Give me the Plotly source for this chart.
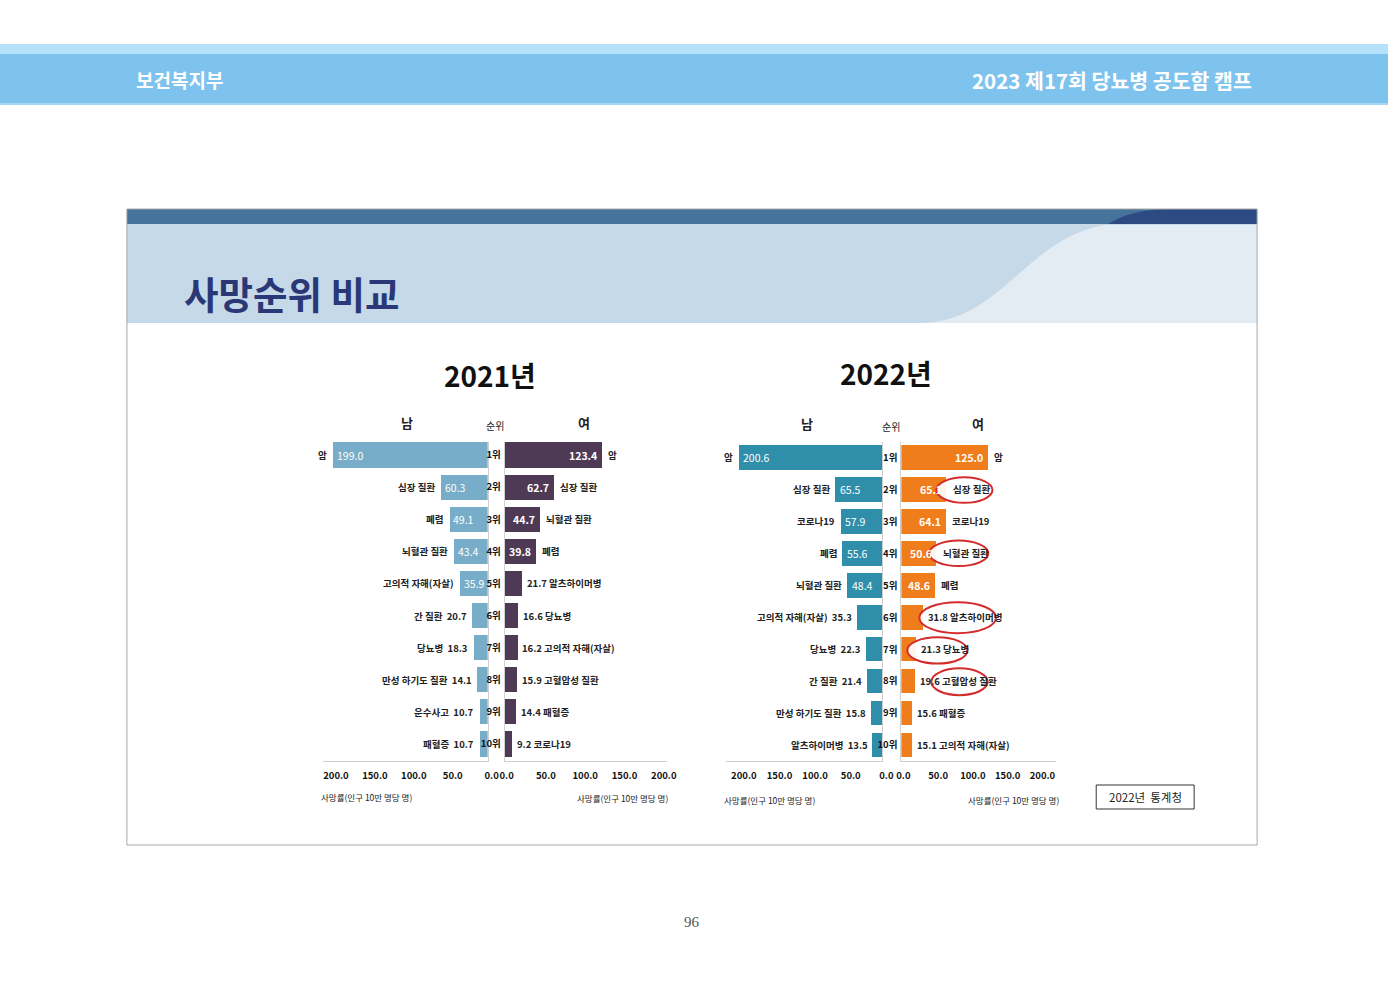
import plotly.graph_objects as go

W, H = 1400, 990

# ---------------- data ----------------
rank_pos = list(range(1, 11))
rank_labels = [f"{i}위" for i in rank_pos]
tick_vals = [0, 50, 100, 150, 200]
tick_text = ["0.0", "50.0", "100.0", "150.0", "200.0"]

m2021_cause = ["암", "심장 질환", "폐렴", "뇌혈관 질환", "고의적 자해(자살)", "간 질환", "당뇨병",
               "만성 하기도 질환", "운수사고", "패혈증"]
m2021_val = [199.0, 60.3, 49.1, 43.4, 35.9, 20.7, 18.3, 14.1, 10.7, 10.7]
f2021_cause = ["암", "심장 질환", "뇌혈관 질환", "폐렴", "알츠하이머병", "당뇨병", "고의적 자해(자살)",
               "고혈압성 질환", "패혈증", "코로나19"]
f2021_val = [123.4, 62.7, 44.7, 39.8, 21.7, 16.6, 16.2, 15.9, 14.4, 9.2]

m2022_cause = ["암", "심장 질환", "코로나19", "폐렴", "뇌혈관 질환", "고의적 자해(자살)", "당뇨병",
               "간 질환", "만성 하기도 질환", "알츠하이머병"]
m2022_val = [200.6, 65.5, 57.9, 55.6, 48.4, 35.3, 22.3, 21.4, 15.8, 13.5]
f2022_cause = ["암", "심장 질환", "코로나19", "뇌혈관 질환", "폐렴", "알츠하이머병", "당뇨병",
               "고혈압성 질환", "패혈증", "고의적 자해(자살)"]
f2022_val = [125.0, 65.1, 64.1, 50.6, 48.6, 31.8, 21.3, 19.6, 15.6, 15.1]

# highlighted (circled) ranks in 2022 female panel
highlight_ranks = [2, 4, 6, 7, 8]

FONT = "Liberation Sans Narrow, Noto Sans CJK KR, sans-serif"
KFONT = "Noto Sans CJK KR, sans-serif"

# page-to-paper mapping (figure sits 8px in from the left, 1384px wide)
XOFF, XW = 8.0, 1384.0


def px(x):
    return (x - XOFF) / XW


def py(y):
    return 1 - y / H


panels = [
    dict(x="x", y="y", vals=m2021_val, causes=m2021_cause, side="m", color="#77adc8",
         xdom=(326, 491), xr=211.8, ydom=(442, 761), yr=(10.53, 0.595), width=0.78, thr=30),
    dict(x="x2", y="y2", vals=f2021_val, causes=f2021_cause, side="f", color="#4f3a55",
         xdom=(508, 670), xr=206.0, ydom=(442, 761), yr=(10.53, 0.595), width=0.78, thr=30),
    dict(x="x3", y="y3", vals=m2022_val, causes=m2022_cause, side="m", color="#2f8eaa",
         xdom=(730, 886), xr=218.8, ydom=(442, 761), yr=(10.5, 0.515), width=0.77, thr=40),
    dict(x="x4", y="y4", vals=f2022_val, causes=f2022_cause, side="f", color="#f07d1c",
         xdom=(905, 1060), xr=222.7, ydom=(442, 761), yr=(10.5, 0.515), width=0.77, thr=40),
]

fig = go.Figure()
annotations = []
layout_axes = {}

CAT = dict(family=FONT, size=9.5, color="#222", weight="bold")

for i, p in enumerate(panels):
    fig.add_trace(go.Bar(
        x=p["vals"], y=rank_pos, orientation="h", xaxis=p["x"], yaxis=p["y"],
        marker=dict(color=p["color"], line=dict(width=0)), width=p["width"],
        hoverinfo="skip", showlegend=False,
    ))
    xn = "xaxis" if i == 0 else f"xaxis{i+1}"
    yn = "yaxis" if i == 0 else f"yaxis{i+1}"
    male = p["side"] == "m"
    layout_axes[xn] = dict(
        domain=[px(p["xdom"][0]), px(p["xdom"][1])],
        range=[p["xr"], 0] if male else [0, p["xr"]],
        anchor=p["y"], showline=True, linecolor="#cfcfcf", linewidth=1,
        showgrid=False, zeroline=False, tickvals=tick_vals, ticktext=tick_text,
        ticks="", ticklabelstandoff=6, ticklabelshift=-4 if male else 2,
        tickfont=dict(family=FONT, size=9.5, color="#111", weight="bold"), fixedrange=True,
    )
    ya = dict(
        domain=[py(p["ydom"][1]), py(p["ydom"][0])], range=list(p["yr"]),
        anchor=p["x"], showline=True, linecolor="#cfcfcf", linewidth=1,
        showgrid=False, zeroline=False, fixedrange=True,
    )
    if male:
        ya.update(side="right", showticklabels=False, ticks="")
    else:
        ya.update(side="left", tickvals=rank_pos, ticktext=rank_labels, ticks="",
                  ticklabelstandoff=1,
                  tickfont=dict(family=FONT, size=9.5, color="#111", weight="bold"))
    layout_axes[yn] = ya

    # labels
    for r, v, c in zip(rank_pos, p["vals"], p["causes"]):
        inside = v >= p["thr"]
        base = dict(x=v, y=r, xref=p["x"], yref=p["y"], showarrow=False, yanchor="middle")
        if male:
            if inside:
                annotations.append(dict(base, text=f"{v:.1f}", xanchor="left", xshift=2,
                                        font=dict(family=FONT, size=10.5, color="white")))
                annotations.append(dict(base, text=c, xanchor="right", xshift=-4, font=CAT))
            else:
                annotations.append(dict(base, text=f"{c}  {v:.1f}", xanchor="right", xshift=-3,
                                        font=CAT))
        else:
            if inside:
                annotations.append(dict(base, text=f"{v:.1f}", xanchor="right", xshift=-3,
                                        font=dict(family=FONT, size=10.5, color="white",
                                                  weight="bold")))
                annotations.append(dict(base, text=c, xanchor="left", xshift=4, font=CAT))
            else:
                annotations.append(dict(base, text=f"{v:.1f} {c}", xanchor="left", xshift=3,
                                        font=CAT))

fig.update_layout(**layout_axes)

# ---------------- decorations ----------------
shapes = []


def rect(x0, y0, x1, y1, fill, line=None, layer="below"):
    shapes.append(dict(type="rect", xref="paper", yref="paper", x0=px(x0), x1=px(x1),
                       y0=py(y1), y1=py(y0), fillcolor=fill,
                       line=dict(width=0) if line is None else line, layer=layer))


def path(pts_cmd, fill):
    shapes.append(dict(type="path", xref="paper", yref="paper", path=pts_cmd,
                       fillcolor=fill, line=dict(width=0), layer="below"))


def P(x, y):
    return f"{px(x):.5f},{py(y):.5f}"


# header band
rect(0, 44, 1392, 54, "#b6e1fb")
rect(0, 54, 1392, 103, "#7dc3ee")
rect(0, 103, 1392, 105, "#a8d6f2")

# slide box
rect(130, 209, 1261, 224, "#45739b")
path(f"M {P(1112,224)} C {P(1128,214)} {P(1148,209)} {P(1178,209)} L {P(1261,209)} L {P(1261,224)} Z",
     "#2d4b83")
rect(130, 224, 1261, 323, "#c6d9e8")
path(f"M {P(925,323)} C {P(1005,322)} {P(1030,238)} {P(1108,225)} L {P(1261,225)} L {P(1261,323)} Z",
     "#e3ebf3")
rect(130, 209, 1261, 845, "rgba(0,0,0,0)", line=dict(color="#a8a8a8", width=1))

# source box
rect(1100, 785, 1198, 809, "white", line=dict(color="#333", width=1), layer="above")

# red ellipses on the 2022 female panel
ellipse_x = {2: (50.3, 131.0), 4: (40.0, 125.0), 6: (25.9, 136.0), 7: (8.6, 95.0), 8: (43.0, 124.0)}
ellipse_dy = {2: (-0.38, 0.42), 4: (-0.4, 0.4), 6: (-0.47, 0.5), 7: (-0.37, 0.45), 8: (-0.4, 0.44)}
for r in highlight_ranks:
    x0, x1 = ellipse_x[r]
    d0, d1 = ellipse_dy[r]
    shapes.append(dict(type="circle", xref="x4", yref="y4", x0=x0, x1=x1, y0=r + d0, y1=r + d1,
                       fillcolor="rgba(255,255,255,0.92)", line=dict(color="#d42b2b", width=2),
                       layer="above"))

fig.update_layout(shapes=shapes)


def pann(x, y, text, size, color="#111", xanchor="center", family=KFONT, weight="normal"):
    annotations.append(dict(x=px(x), y=py(y), xref="paper", yref="paper", text=text,
                            showarrow=False, xanchor=xanchor, yanchor="middle",
                            font=dict(family=family, size=size, color=color, weight=weight)))


pann(137, 80, "보건복지부", 19, "white", "left", weight="bold")
pann(1258, 80, "2023 제17회 당뇨병 공도함 캠프", 20.5, "white", "right", weight="bold")
pann(185, 292, "사망순위 비교", 37.5, "#2b3877", "left", weight="bold")

pann(493, 375, "2021년", 28, "#111", weight="bold")
pann(890, 373, "2022년", 28, "#111", weight="bold")

pann(410, 422, "남", 13, "#222", weight="bold")
pann(498, 425, "순위", 10, "#222")
pann(587, 422, "여", 13, "#222", weight="bold")
pann(811, 423, "남", 13, "#222", weight="bold")
pann(895, 426, "순위", 10, "#222")
pann(982, 423, "여", 13, "#222", weight="bold")

axis_title = "사망률(인구 10만 명당 명)"
pann(322, 797, axis_title, 8.5, "#222", "left", family=FONT)
pann(673, 798, axis_title, 8.5, "#222", "right", family=FONT)
pann(726, 800, axis_title, 8.5, "#222", "left", family=FONT)
pann(1065, 800, axis_title, 8.5, "#222", "right", family=FONT)

pann(1149, 797, "2022년  통계청", 11.5, "#222")
pann(695, 922, "96", 15, "#555", family="Liberation Serif, DejaVu Serif, serif")

fig.update_layout(
    annotations=annotations,
    width=W, height=H, autosize=False,
    margin=dict(l=0, r=0, t=0, b=0),
    paper_bgcolor="white", plot_bgcolor="rgba(0,0,0,0)",
    bargap=0, showlegend=False,
)

fig.write_html("out.html", config={"displayModeBar": False})
